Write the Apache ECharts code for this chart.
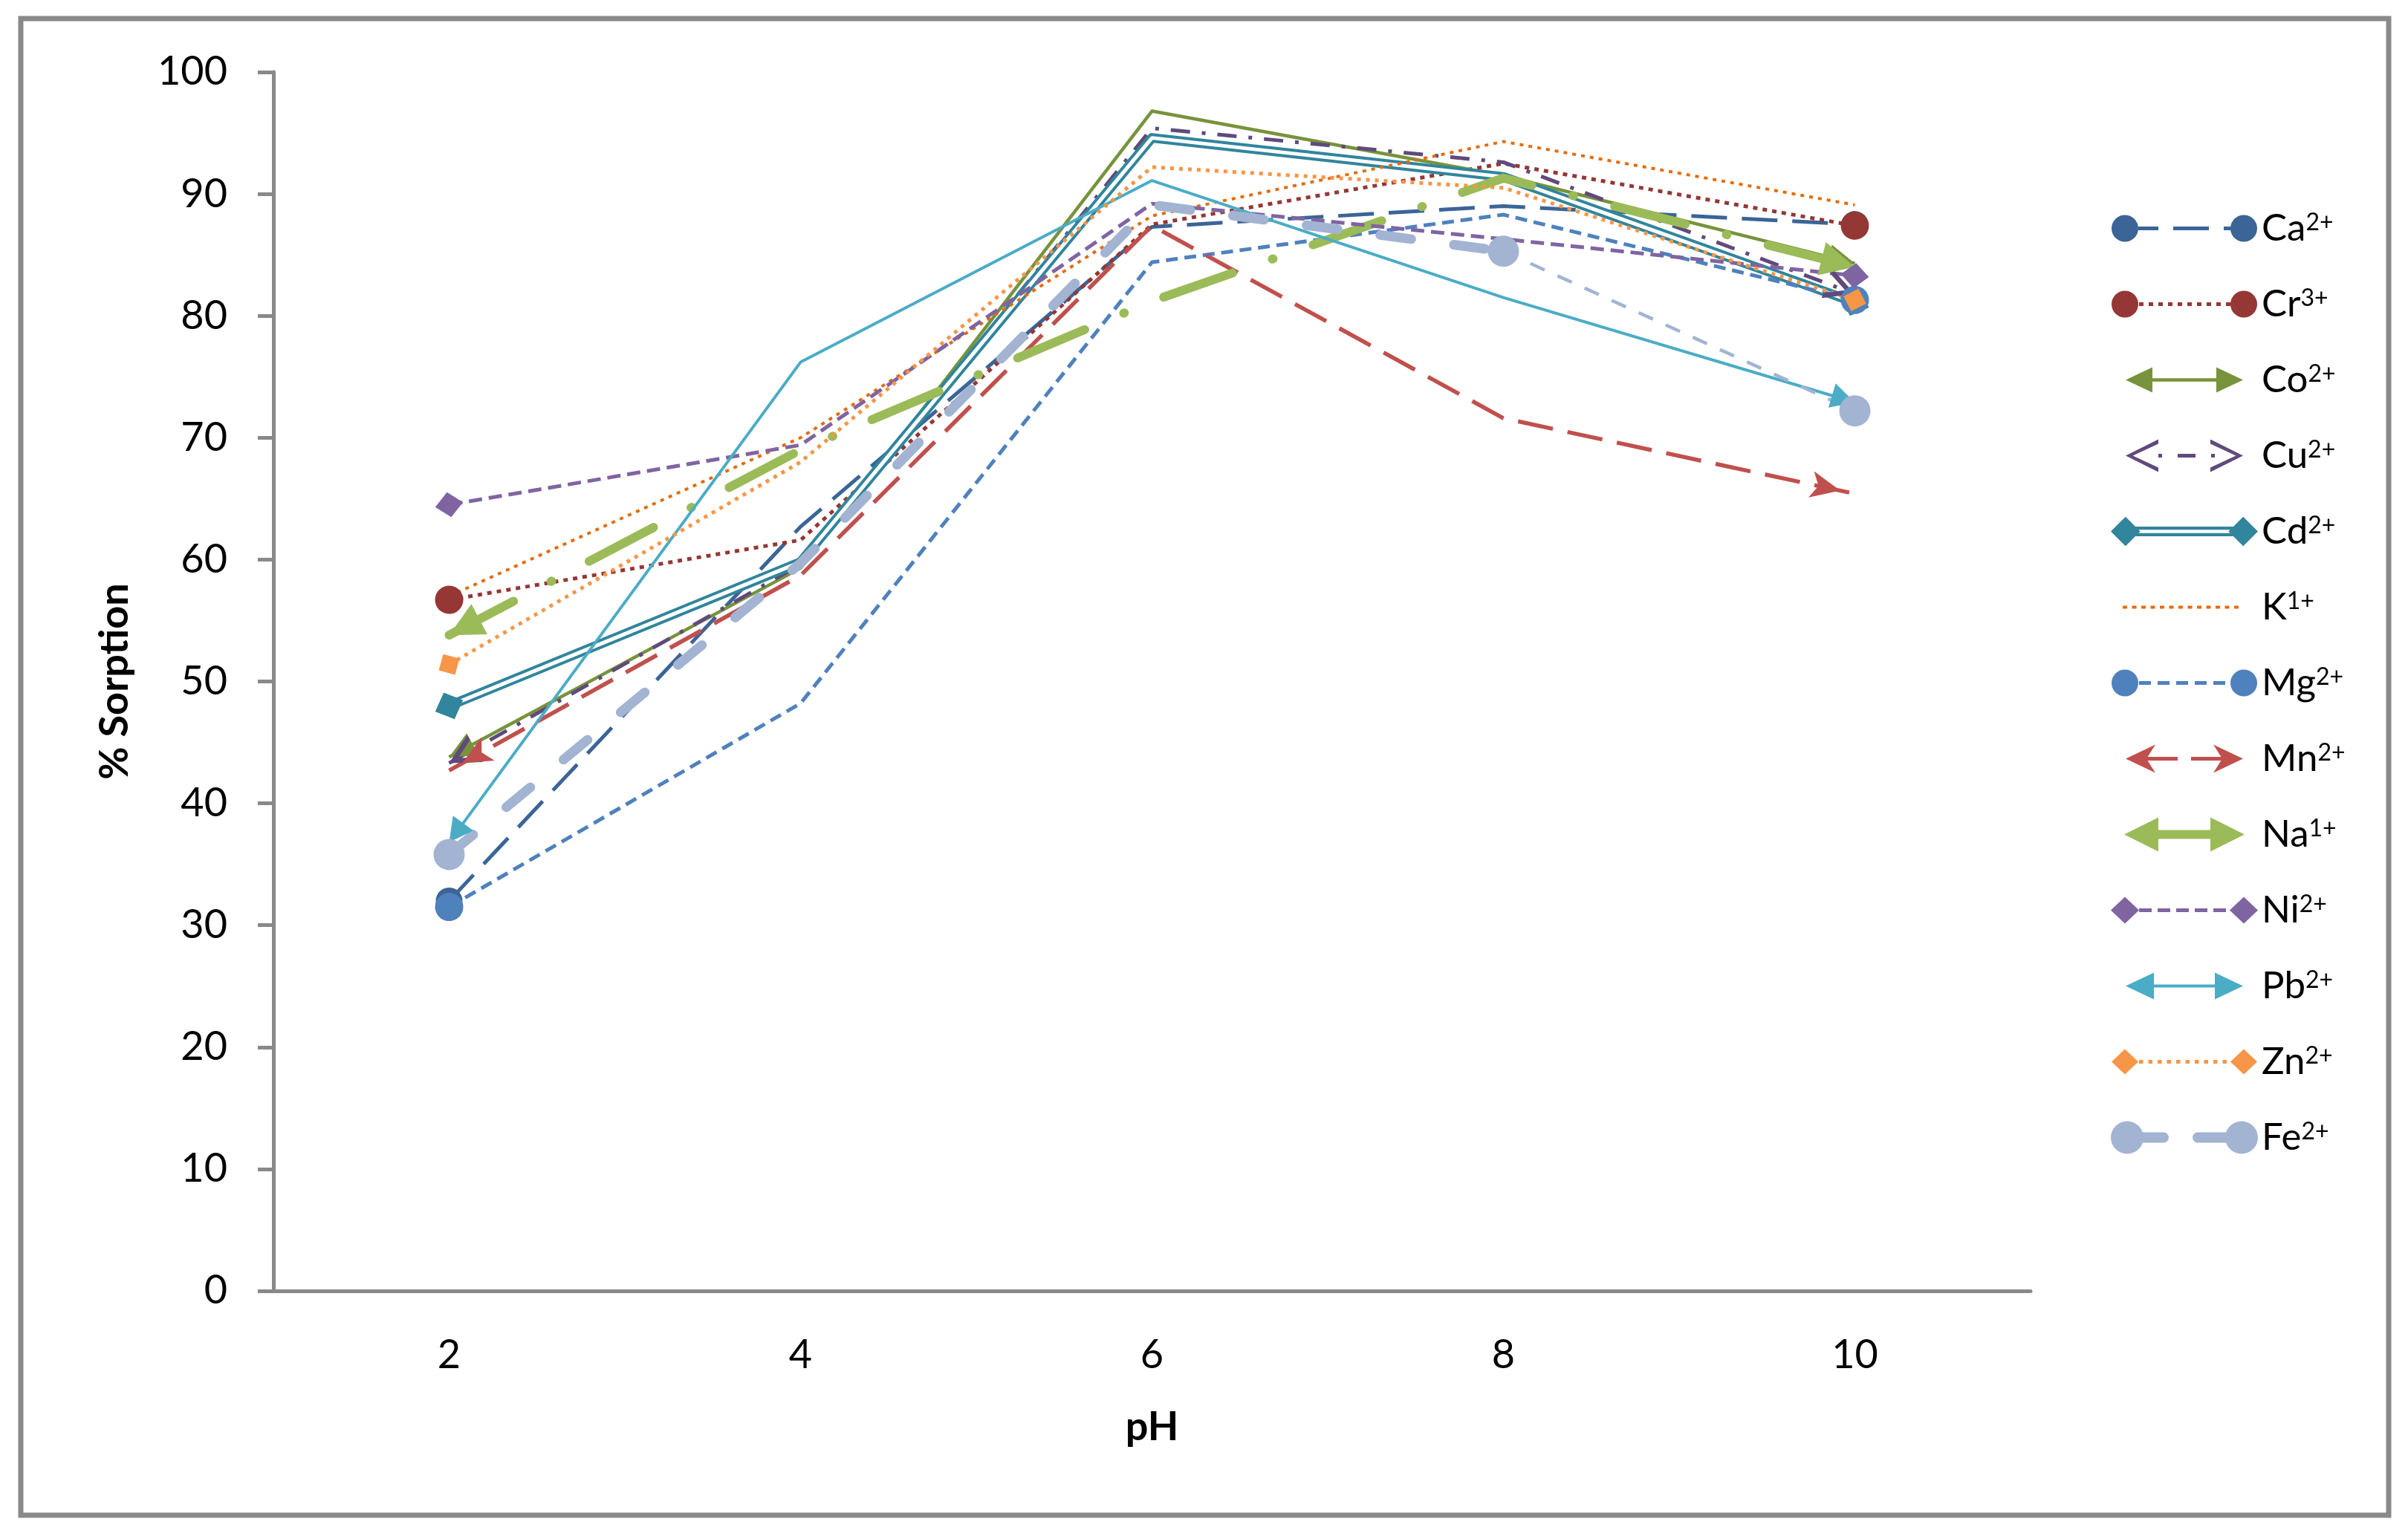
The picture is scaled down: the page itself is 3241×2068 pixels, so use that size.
<!DOCTYPE html>
<html>
<head>
<meta charset="utf-8">
<script src="https://cdn.jsdelivr.net/npm/echarts@6/dist/echarts.min.js"></script>
<style>
html, body { margin: 0; padding: 0; background: #fff; }
#chartmain { width: 3241px; height: 2068px; }
</style>
</head>
<body>
<div id="chartmain"></div>
<script>
// x categories (pH) and % sorption per ion
var pH = ['2', '4', '6', '8', '10'];
var ca = [32.0, 62.7, 87.3, 89.0, 87.5];
var cr = [56.7, 61.6, 87.5, 92.5, 87.4];
var co = [43.8, 59.3, 96.8, 91.5, 84.3];
var cu = [43.3, 59.6, 95.4, 92.6, 81.8];
var cd = [48.0, 59.8, 94.6, 91.4, 81.1];
var k  = [57.0, 70.0, 88.2, 94.3, 89.1];
var mg = [31.5, 48.2, 84.4, 88.3, 81.3];
var mn = [42.7, 58.7, 87.4, 71.6, 65.4];
var na = [53.8, 69.0, 81.2, 91.3, 84.0];
var ni = [64.5, 69.4, 89.2, 86.3, 83.3];
var pb = [36.8, 76.2, 91.1, 81.5, 72.9];
var zn = [51.4, 68.0, 92.2, 90.5, 81.3];
var fe = [35.8, 59.7, 89.1, 85.3, 72.2];

var FONT = 'Lato';
var GRAY = '#898989';
var CHEVRON = 'path://M0 40L20 0L40 40L33 40L20 14L7 40Z';

// line looks (excel style line ends: circle / arrow / diamond ...)
var looks = [
    {name: 'Ca2+', vals: ca, color: '#3B6497', width: 5, type: [48, 20], mark: 'circle', size: [36, 36]},
    {name: 'Cr3+', vals: cr, color: '#953735', width: 5, type: [6, 7], mark: 'circle', size: [38, 38]},
    {name: 'Co2+', vals: co, color: '#77933C', width: 4.5, type: 'solid', mark: 'triangle', size: [34, 36], tip: true},
    {name: 'Cu2+', vals: cu, color: '#604A7B', width: 5, type: [26, 16, 5, 16], mark: CHEVRON, size: [42, 40], tip: true},
    {name: 'Cd2+', vals: cd, color: '#31859C', width: 13, type: 'solid', mark: 'diamond', size: [38, 40], core: 5},
    {name: 'K1+', vals: k, color: '#E46C0A', width: 4, type: [5, 7], mark: 'none'},
    {name: 'Mg2+', vals: mg, color: '#4F81BD', width: 5, type: [16, 9], mark: 'circle', size: [38, 38]},
    {name: 'Mn2+', vals: mn, color: '#C0504D', width: 5.5, type: [48, 20], mark: 'arrow', size: [27, 40], tip: true},
    {name: 'Na1+', vals: na, color: '#9BBB59', width: 12, type: [98, 57, 1, 57], cap: 'round', mark: 'triangle', size: [46, 46], tip: true},
    {name: 'Ni2+', vals: ni, color: '#8064A2', width: 5, type: [18, 9], mark: 'diamond', size: [34, 38]},
    {name: 'Pb2+', vals: pb, color: '#4BACC6', width: 4, type: 'solid', mark: 'triangle', size: [34, 32], tip: true},
    {name: 'Zn2+', vals: zn, color: '#F79646', width: 5, type: [5, 7], mark: 'diamond', size: [32, 32]},
    {name: 'Fe2+', vals: fe, color: '#A2B4D2', width: 13, type: [42, 58], cap: 'round', mark: 'circle', size: [42, 42],
        upTo: 3, tail: {width: 4.5, type: [21, 19]}}
];

// ---- legend icons drawn as paths (198 x 48 box) ----
var IW = 198, IH = 48, cy = 24;
function circ(cx, r) {
    return 'M' + (cx - r) + ' ' + cy + 'A' + r + ' ' + r + ' 0 1 1 ' + (cx + r) + ' ' + cy +
        'A' + r + ' ' + r + ' 0 1 1 ' + (cx - r) + ' ' + cy + 'Z';
}
function box(x0, x1, y0, y1) {
    return 'M' + x0 + ' ' + y0 + 'H' + x1 + 'V' + y1 + 'H' + x0 + 'Z';
}
function bar(x0, x1, w) { return box(x0, x1, cy - w / 2, cy + w / 2); }
function run(x0, x1, w, pat) {
    var s = '', x = x0, i = 0;
    while (x < x1) {
        var on = pat[i % pat.length], off = pat[(i + 1) % pat.length];
        s += bar(x, Math.min(x + on, x1), w);
        x += on + off; i += 2;
    }
    return s;
}
function diam(cx, w, h) {
    return 'M' + (cx - w / 2) + ' ' + cy + 'L' + cx + ' ' + (cy - h / 2) + 'L' + (cx + w / 2) + ' ' + cy +
        'L' + cx + ' ' + (cy + h / 2) + 'Z';
}
function triL(tx, len, wid) {
    return 'M' + tx + ' ' + cy + 'L' + (tx + len) + ' ' + (cy - wid / 2) + 'L' + (tx + len) + ' ' + (cy + wid / 2) + 'Z';
}
function triR(tx, len, wid) {
    return 'M' + tx + ' ' + cy + 'L' + (tx - len) + ' ' + (cy + wid / 2) + 'L' + (tx - len) + ' ' + (cy - wid / 2) + 'Z';
}
function stealthL(tx, len, wid) {
    return 'M' + tx + ' ' + cy + 'L' + (tx + len) + ' ' + (cy - wid / 2) + 'L' + (tx + len * 0.7) + ' ' + cy +
        'L' + (tx + len) + ' ' + (cy + wid / 2) + 'Z';
}
function stealthR(tx, len, wid) {
    return 'M' + tx + ' ' + cy + 'L' + (tx - len) + ' ' + (cy + wid / 2) + 'L' + (tx - len * 0.7) + ' ' + cy +
        'L' + (tx - len) + ' ' + (cy - wid / 2) + 'Z';
}
function chevL(tx, len, wid, t) {
    var a = wid / 2;
    return 'M' + (tx + len) + ' ' + (cy - a + t) + 'L' + (tx + t * 1.6) + ' ' + cy + 'L' + (tx + len) + ' ' + (cy + a - t) +
        'L' + (tx + len) + ' ' + (cy + a) + 'L' + tx + ' ' + cy + 'L' + (tx + len) + ' ' + (cy - a) + 'Z';
}
function chevR(tx, len, wid, t) {
    var a = wid / 2;
    return 'M' + (tx - len) + ' ' + (cy - a) + 'L' + tx + ' ' + cy + 'L' + (tx - len) + ' ' + (cy + a) +
        'L' + (tx - len) + ' ' + (cy + a - t) + 'L' + (tx - t * 1.6) + ' ' + cy + 'L' + (tx - len) + ' ' + (cy - a + t) + 'Z';
}
var corners = 'M0 0L0.01 0L0 0.01Z' + 'M' + IW + ' ' + IH + 'L' + (IW - 0.01) + ' ' + IH + 'L' + IW + ' ' + (IH - 0.01) + 'Z';

var icons = {
    'Ca2+': circ(19, 18) + circ(179, 18) + bar(37, 64, 5) + bar(84, 132, 5) + bar(152, 162, 5),
    'Cr3+': circ(19, 18) + circ(179, 18) + run(38, 161, 5, [6, 7]),
    'Co2+': triL(20, 36, 34) + triR(178, 36, 34) + bar(50, 148, 4.5),
    'Cu2+': chevL(20, 44, 44, 6) + chevR(178, 44, 44, 6) + bar(64, 69, 5) + bar(90, 114, 5) + bar(135, 140, 5),
    'Cd2+': diam(19, 40, 40) + diam(179, 40, 40) + box(19, 179, cy - 6.5, cy - 2.25) + box(19, 179, cy + 2.25, cy + 6.5),
    'K1+': run(16, 172, 4, [6, 6.5]),
    'Mg2+': circ(19, 18) + circ(179, 18) + run(38, 161, 5, [16, 9]),
    'Mn2+': stealthL(20, 40, 38) + stealthR(178, 40, 38) + bar(40, 90, 5) + bar(108, 160, 5),
    'Na1+': triL(18, 46, 46) + triR(180, 46, 46) + bar(50, 148, 12),
    'Ni2+': diam(19, 38, 36) + diam(179, 38, 36) + run(38, 161, 5, [17, 8]),
    'Pb2+': triL(20, 38, 36) + triR(178, 38, 36) + bar(50, 148, 4),
    'Zn2+': diam(19, 36, 34) + diam(179, 36, 34) + run(38, 161, 5, [5.5, 7]),
    'Fe2+': circ(22, 22) + circ(176, 22) + bar(22, 71, 14) + circ(71, 7) + bar(117, 176, 14) + circ(117, 7)
};

var chart = echarts.init(document.getElementById('chartmain'));

// data items with end symbols turned to follow the line direction
function marks(vals, lk, from, to, withMarks, startMark, endMark) {
    return vals.map(function (v, i) {
        if (i < from || i > to) return {value: '-'};
        var item = {value: v, symbol: 'none'};
        var isStart = i === from && startMark, isEnd = i === to && endMark;
        if (!withMarks || lk.mark === 'none' || !(isStart || isEnd)) return item;
        var j = isStart ? from + 1 : to - 1;
        var p = chart.convertToPixel({gridIndex: 0}, [i, v]);
        var q = chart.convertToPixel({gridIndex: 0}, [j, vals[j]]);
        var ux = p[0] - q[0], uy = p[1] - q[1];
        var len = Math.sqrt(ux * ux + uy * uy);
        ux /= len; uy /= len;
        item.symbol = lk.mark;
        item.symbolSize = lk.size;
        item.symbolRotate = Math.atan2(-uy, ux) * 180 / Math.PI - 90;
        if (lk.tip) item.symbolOffset = [-ux * lk.size[1] / 2, -uy * lk.size[1] / 2];
        return item;
    });
}

function buildSeries(withMarks) {
    var out = [];
    looks.forEach(function (lk) {
        var last = lk.upTo != null ? lk.upTo : lk.vals.length - 1;
        var data = marks(lk.vals, lk, 0, last, withMarks, true, lk.upTo == null);
        out.push({
            name: lk.name, type: 'line', symbol: 'circle', showSymbol: true, showAllSymbol: true,
            silent: true, color: lk.color,
            lineStyle: {color: lk.color, width: lk.width, type: lk.type, cap: lk.cap || 'butt', join: 'round'},
            itemStyle: {color: lk.color},
            data: data
        });
        if (lk.core) {
            out.push({
                name: lk.name + '-core', type: 'line', symbol: 'circle', showSymbol: true, showAllSymbol: true,
                silent: true, color: lk.color,
                lineStyle: {color: '#fff', width: lk.core, type: 'solid'},
                itemStyle: {color: lk.color},
                data: data
            });
        }
        if (lk.tail) {
            out.push({
                name: lk.name + '-tail', type: 'line', symbol: 'circle', showSymbol: true, showAllSymbol: true,
                silent: true, color: lk.color,
                lineStyle: {color: lk.color, width: lk.tail.width, type: lk.tail.type, cap: 'butt'},
                itemStyle: {color: lk.color},
                data: marks(lk.vals, lk, last, lk.vals.length - 1, withMarks, true, true)
            });
        }
    });
    return out;
}

var options = {
    animation: false,
    backgroundColor: '#fff',
    textStyle: {fontFamily: FONT},
    grid: {left: 368, right: 508, top: 97, bottom: 330, containLabel: false, outerBoundsMode: 'none'},
    graphic: [{
        type: 'rect', silent: true,
        shape: {x: 28, y: 25, width: 3187, height: 2015},
        style: {fill: 'none', stroke: GRAY, lineWidth: 7}
    }],
    legend: {
        orient: 'vertical', left: 2836, top: 277,
        itemWidth: IW, itemHeight: IH, itemGap: 51,
        symbolKeepAspect: true, symbolRotate: 0,
        itemStyle: {borderWidth: 0},
        selectedMode: false,
        data: looks.map(function (lk) { return {name: lk.name, icon: 'path://' + corners + icons[lk.name]}; }),
        formatter: function (name) {
            var m = name.match(/^([A-Za-z]+)(.*)$/);
            return '{b|' + m[1] + '}{s|' + m[2] + '}';
        },
        textStyle: {
            rich: {
                b: {fontFamily: FONT, fontSize: 51, color: '#000', lineHeight: 48},
                s: {fontFamily: FONT, fontSize: 32, color: '#000', lineHeight: 22, verticalAlign: 'top'}
            }
        }
    },
    xAxis: {
        type: 'category', data: pH, boundaryGap: true,
        name: 'pH', nameLocation: 'middle', nameGap: 157, nameMoveOverlap: false,
        nameTextStyle: {fontFamily: FONT, fontSize: 54, fontWeight: 'bold', color: '#000'},
        axisLine: {show: true, lineStyle: {color: GRAY, width: 5}},
        axisTick: {show: false},
        axisLabel: {fontFamily: FONT, fontSize: 54, color: '#000', margin: 60},
        splitLine: {show: false}
    },
    yAxis: {
        type: 'value', min: 0, max: 100, interval: 10,
        name: '% Sorption', nameLocation: 'middle', nameRotate: 90, nameGap: 186, nameMoveOverlap: false,
        nameTextStyle: {fontFamily: FONT, fontSize: 54, fontWeight: 'bold', color: '#000'},
        axisLine: {show: true, lineStyle: {color: GRAY, width: 5}},
        axisTick: {show: true, length: 21, lineStyle: {color: GRAY, width: 5}},
        axisLabel: {fontFamily: FONT, fontSize: 54, color: '#000', margin: 62},
        splitLine: {show: false}
    },
    series: buildSeries(false)
};
chart.setOption(options);
// second pass: now the scales exist, place the line-end symbols
chart.setOption({series: buildSeries(true)});
</script>
</body>
</html>
